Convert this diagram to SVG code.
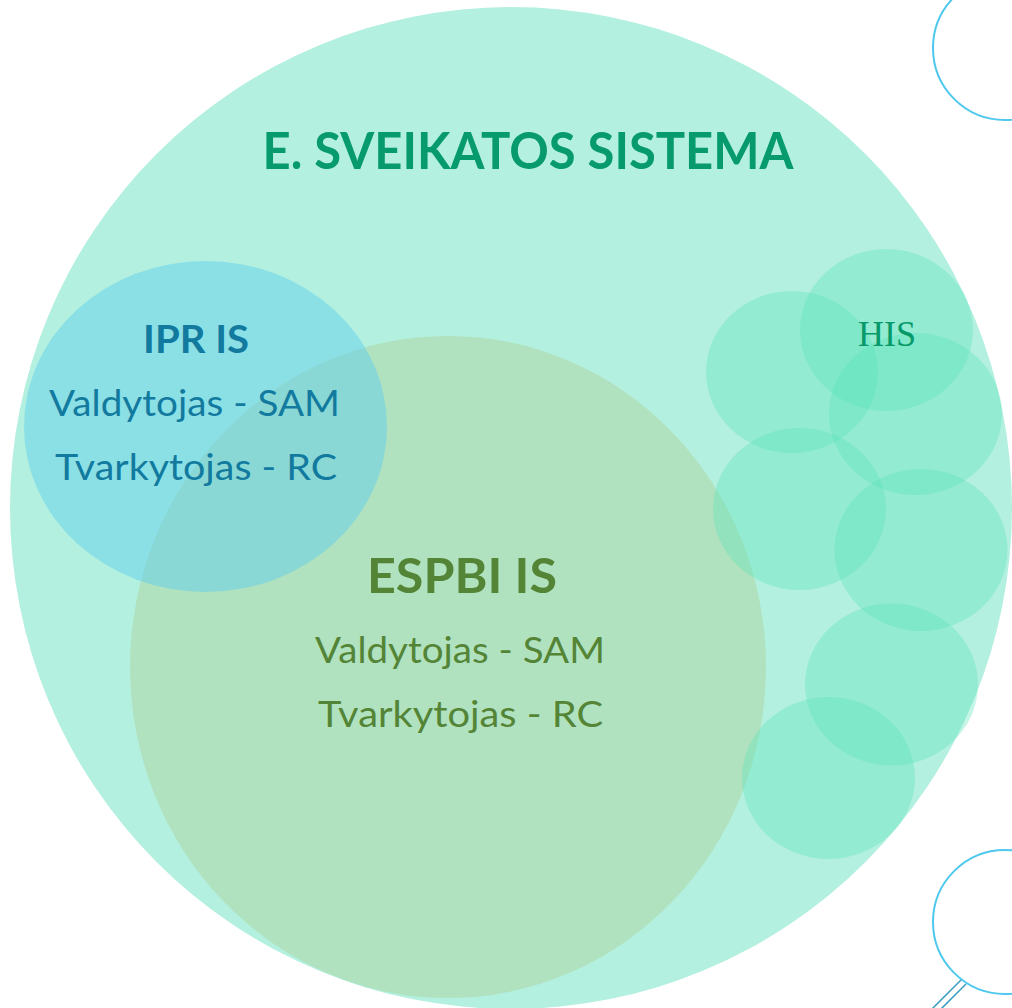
<svg xmlns="http://www.w3.org/2000/svg" width="1012" height="1008" viewBox="0 0 1012 1008">
  <style>
    .sans { font-family: "Lato", "Liberation Sans", sans-serif; }
    .title { font-weight: bold; fill: #069a6c; font-size: 52px; }
    .ipr { fill: #127a9e; }
    .espbi { fill: #548435; }
    .his { fill: #06996a; font-family: "Liberation Serif", "DejaVu Serif", serif; font-size: 36px; }
    .small { fill: #58e1b8; fill-opacity: 0.35; }
    .ring { fill: none; stroke: #4fc8ee; stroke-width: 2; }
    .handle { stroke: #3d9fc2; stroke-width: 1.6; fill: none; }
  </style>
  <rect width="1012" height="1008" fill="#ffffff"/>
  <g id="e-sveikatos-sistema">
    <circle cx="511" cy="508" r="501" fill="#b3f0df"/>
    <text class="sans title" x="528" y="169" text-anchor="middle" textLength="531" lengthAdjust="spacingAndGlyphs">E. SVEIKATOS SISTEMA</text>
  </g>
  <g id="espbi-is">
    <ellipse cx="448" cy="667" rx="318" ry="331" fill="#b0e2c0"/>
  </g>
  <g id="his">
    <ellipse class="small" cx="792" cy="372" rx="86" ry="81"/>
    <ellipse class="small" cx="886.5" cy="330" rx="86.5" ry="81"/>
    <ellipse class="small" cx="915.5" cy="414" rx="86.5" ry="81"/>
    <ellipse class="small" cx="799.5" cy="509" rx="86.5" ry="81"/>
    <ellipse class="small" cx="921" cy="550" rx="86.5" ry="81"/>
    <ellipse class="small" cx="891.5" cy="684.5" rx="86.5" ry="81"/>
    <ellipse class="small" cx="828.5" cy="778" rx="86.5" ry="81"/>
    <text class="his" x="887" y="346" text-anchor="middle" textLength="58" lengthAdjust="spacingAndGlyphs">HIS</text>
  </g>
  <g id="ipr-is">
    <ellipse cx="205.5" cy="426.5" rx="181.5" ry="165.5" fill="#5cccef" fill-opacity="0.45"/>
    <text class="sans ipr" x="196" y="353" text-anchor="middle" font-size="39" font-weight="bold" textLength="106" lengthAdjust="spacingAndGlyphs">IPR IS</text>
    <text class="sans ipr" x="194.5" y="416" text-anchor="middle" font-size="36" textLength="291" lengthAdjust="spacingAndGlyphs">Valdytojas - SAM</text>
    <text class="sans ipr" x="196" y="480" text-anchor="middle" font-size="36" textLength="282" lengthAdjust="spacingAndGlyphs">Tvarkytojas - RC</text>
  </g>
  <g id="espbi-labels">
    <text class="sans espbi" x="462" y="593" text-anchor="middle" font-size="47" font-weight="bold" textLength="190" lengthAdjust="spacingAndGlyphs">ESPBI IS</text>
    <text class="sans espbi" x="460" y="663" text-anchor="middle" font-size="36" textLength="290" lengthAdjust="spacingAndGlyphs">Valdytojas - SAM</text>
    <text class="sans espbi" x="460.5" y="727" text-anchor="middle" font-size="36" textLength="285" lengthAdjust="spacingAndGlyphs">Tvarkytojas - RC</text>
  </g>
  <g id="ring-top">
    <circle class="ring" cx="1005" cy="48" r="72"/>
  </g>
  <g id="magnifier-bottom">
    <circle class="ring" cx="1005" cy="922" r="72"/>
    <line class="handle" x1="961" y1="980" x2="931" y2="1010"/>
    <line class="handle" x1="966" y1="984" x2="938" y2="1012"/>
  </g>
</svg>
